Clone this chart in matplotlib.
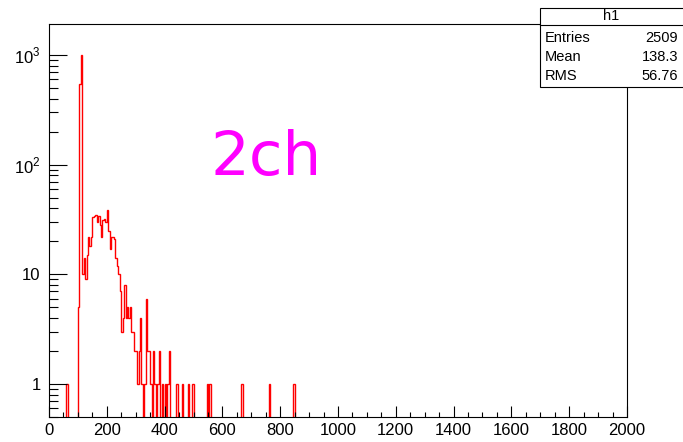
import numpy as np
import matplotlib
matplotlib.use("Agg")
import matplotlib.pyplot as plt
from matplotlib.patches import Rectangle
from matplotlib.lines import Line2D

plt.rcParams['font.family'] = ['Liberation Sans', 'DejaVu Sans']
plt.rcParams['mathtext.fontset'] = 'custom'
plt.rcParams['mathtext.rm'] = 'Liberation Sans'

############## data ##############
bin_width = 5
x_min, x_max = 0, 2000
# lower edge of every filled bin and its content
bin_lo = [60, 100, 105, 110, 115, 120, 125, 130, 135, 140, 145, 150, 155, 160,
          165, 170, 175, 180, 185, 190, 195, 200, 205, 210, 215, 220, 225, 230,
          235, 240, 245, 250, 255, 260, 265, 270, 275, 280, 285, 290, 295, 300,
          305, 310, 315, 320, 330, 335, 340, 345, 350, 360, 365, 375, 380, 390,
          400, 410, 415, 440, 460, 480, 495, 545, 555, 665, 760, 845]
bin_n = [1, 5, 540, 1000, 10, 14, 9, 15, 22, 18, 22, 33, 34, 35,
         30, 34, 28, 22, 31, 32, 30, 39, 25, 17, 22, 22, 21, 14,
         12, 10, 7, 3, 4, 8, 4, 5, 4, 5, 3, 3, 2, 2,
         1, 2, 4, 1, 1, 6, 2, 2, 1, 2, 1, 1, 2, 1,
         1, 1, 2, 1, 1, 1, 1, 1, 1, 1, 1, 1]

stats_names = ["Entries", "Mean", "RMS"]
stats_vals = ["2509", "138.3", "56.76"]

xticks = list(range(0, 2001, 200))
xminor = list(range(0, 2001, 50))
yticks = [1, 10, 100, 1000]
ylabels = ["1", "10", r"$10^{2}$", r"$10^{3}$"]

############## histogram ##############
edges = np.arange(x_min, x_max + bin_width, bin_width)
counts = np.zeros(len(edges) - 1)
for lo, n in zip(bin_lo, bin_n):
    counts[int((lo - x_min) / bin_width)] = n

W, H = 683, 442
fig = plt.figure(figsize=(W / 100, H / 100), dpi=100)
ax = fig.add_axes([49 / W, 1 - 417 / H, (627 - 49) / W, (417 - 24) / H])

# empty bins are drawn at the bottom like ROOT does
ax.stairs(np.clip(counts, 0.1, None), edges, color="red", lw=1.0, baseline=None)

ax.set_yscale("log")
ax.set_xlim(x_min, x_max)
ax.set_ylim(0.5, 1920)

ax.set_xticks(xticks)
ax.set_xticks(xminor, minor=True)
ax.set_xticklabels([str(t) for t in xticks])
ax.set_yticks(yticks)
ax.set_yticklabels(ylabels)
yminor = [m * 10.0 ** d for d in range(-1, 3) for m in range(2, 10) if 0.5 <= m * 10.0 ** d < 1000]
ax.set_yticks(yminor, minor=True)
ax.set_yticklabels([], minor=True)

ax.tick_params(axis="x", which="major", direction="in", length=8, width=0.8, labelsize=12, pad=4,
               top=False)
ax.tick_params(axis="x", which="minor", direction="in", length=3.8, width=0.8, top=False)
ax.tick_params(axis="y", which="major", direction="in", length=13, width=0.8, labelsize=12, pad=6,
               right=False)
ax.tick_params(axis="y", which="minor", direction="in", length=6.5, width=0.8, right=False)
for s in ax.spines.values():
    s.set_linewidth(0.8)

# big label
fig.text(266 / W, 1 - 175 / H, "2ch", color="#ff00ff", fontsize=44, ha="center", va="baseline",
         family="DejaVu Sans")

############## stats box ##############
bx0, by0, bx1, by1 = 540, 7.5, 690, 87.3
fig.add_artist(Rectangle((bx0 / W, 1 - by1 / H), (bx1 - bx0) / W, (by1 - by0) / H,
                         transform=fig.transFigure, facecolor="white", edgecolor="black",
                         lw=0.8, zorder=5))
fig.add_artist(Line2D([bx0 / W, bx1 / W], [1 - 25 / H, 1 - 25 / H], transform=fig.transFigure,
                      color="black", lw=0.8, zorder=6))
fig.text(611 / W, 1 - 16.5 / H, "h1", fontsize=10.5, ha="center", va="center", zorder=7)
for i, (name, val) in enumerate(zip(stats_names, stats_vals)):
    yy = 1 - (38 + 19 * i) / H
    fig.text(545 / W, yy, name, fontsize=10.5, ha="left", va="center", zorder=7)
    fig.text(678 / W, yy, val, fontsize=10.5, ha="right", va="center", zorder=7)

plt.savefig("out.png", dpi=100)
